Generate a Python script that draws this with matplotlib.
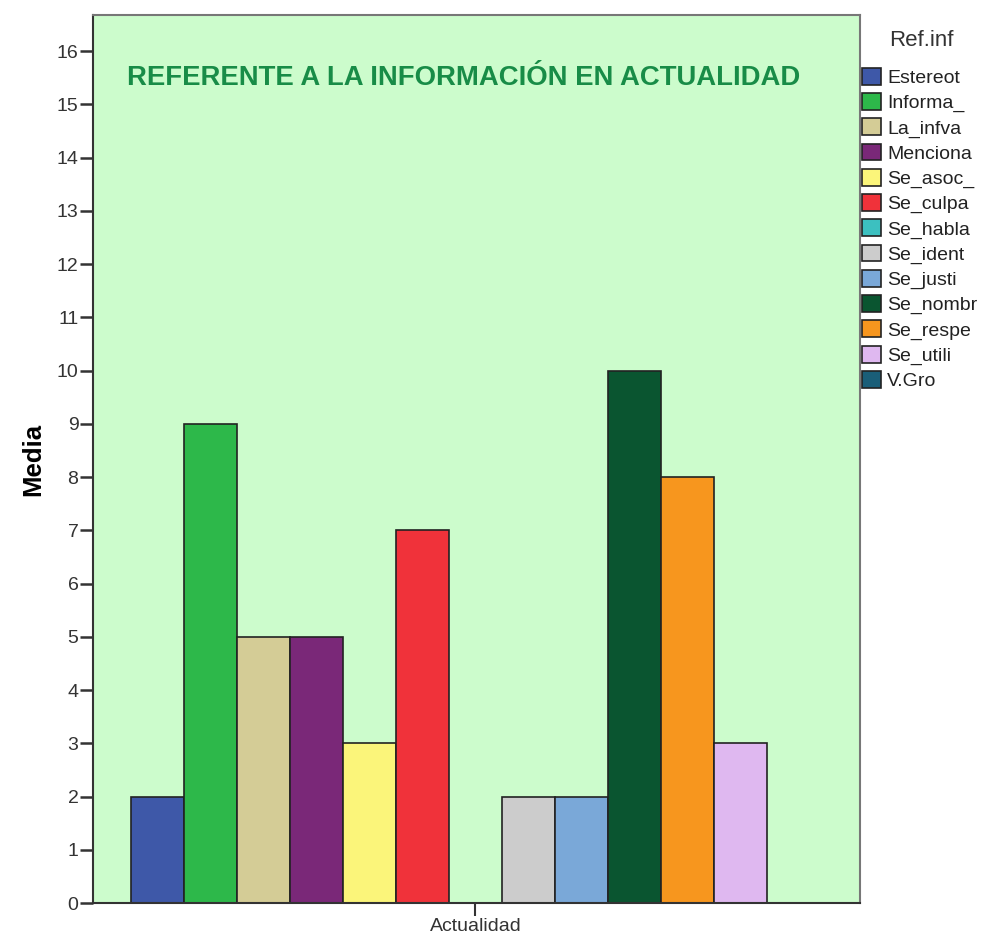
import matplotlib.pyplot as plt
from matplotlib.patches import Patch

plt.rcParams["font.family"] = ["Liberation Sans", "DejaVu Sans"]

categories = ["Estereot", "Informa_", "La_infva", "Menciona", "Se_asoc_", "Se_culpa",
              "Se_habla", "Se_ident", "Se_justi", "Se_nombr", "Se_respe", "Se_utili", "V.Gro"]
values = [2, 9, 5, 5, 3, 7, 0, 2, 2, 10, 8, 3, 0]
colors = ["#3e58a8", "#2db84a", "#d4cc96", "#7a2878", "#fbf57a", "#f0323a",
          "#3cc0c0", "#cccccc", "#7aa8d8", "#0a5530", "#f7961e", "#dfb8f0", "#1a5e78"]
group_label = "Actualidad"
yticks = list(range(0, 17))

fig = plt.figure(figsize=(9.81, 9.38), dpi=100)
ax = fig.add_axes([0.0948, 0.0373, 0.7819, 0.9467])
ax.set_facecolor("#ccfccc")

pos = list(range(len(values)))
ax.bar(pos, values, width=1.0, color=colors, edgecolor="#222222", linewidth=1.2, zorder=2)

ax.set_xlim(-1.22, 13.26)
ax.set_ylim(0, 16.68)
ax.set_yticks(yticks)
ax.set_yticklabels([str(t) for t in yticks], fontsize=14, color="#333333")
ax.set_xticks([6])
ax.set_xticklabels([group_label], fontsize=14, color="#333333")
ax.tick_params(axis="y", direction="out", length=9.5, width=1.8, color="#333333", pad=1)
ax.tick_params(axis="x", direction="out", length=9, width=1.5, color="#333333", pad=2)

for s in ["left", "bottom"]:
    ax.spines[s].set_color("#333333")
    ax.spines[s].set_linewidth(1.5)
for s in ["top", "right"]:
    ax.spines[s].set_color("#777777")
    ax.spines[s].set_linewidth(1.5)

ax.set_ylabel("Media", fontsize=18.5, fontweight="bold", labelpad=8)

ax.text(0.0443, 0.929, "REFERENTE A LA INFORMACIÓN EN ACTUALIDAD", transform=ax.transAxes,
        fontsize=19.8, fontweight="bold", color="#188c47", ha="left", va="center")

# legend title placed on its own, the gap to the entries is wider than matplotlib's
fig.text(921 / 981, 1 - 41 / 938, "Ref.inf", fontsize=16, color="#333333",
         ha="center", va="center")

handles = [Patch(facecolor=c, edgecolor="#222222", linewidth=1.2) for c in colors]
leg = fig.legend(handles, categories, loc="upper left",
                 bbox_to_anchor=(862 / 981, 1 - 68 / 938), bbox_transform=fig.transFigure,
                 frameon=False, fontsize=14, handlelength=1.0, handleheight=0.95,
                 handletextpad=0.3, labelspacing=0.31, borderpad=0, borderaxespad=0)
for t in leg.get_texts():
    t.set_color("#222222")

fig.savefig("out.png", dpi=100)
